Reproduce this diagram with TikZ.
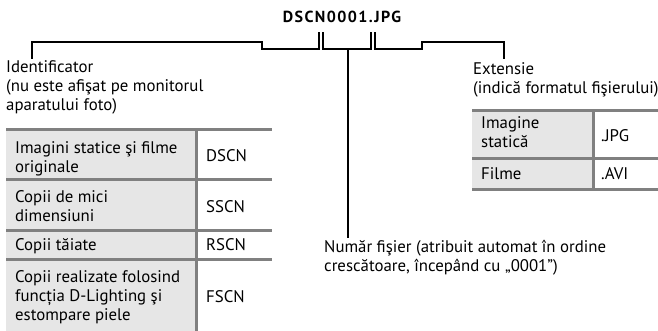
\documentclass[tikz,border=0pt]{standalone}
\usepackage{fontspec}
\setmainfont{PT Sans}
\definecolor{gridgray}{HTML}{808080}
\definecolor{cellgray}{HTML}{E6E6E6}
\begin{document}
\begin{tikzpicture}[x=1pt,y=-1pt]
\useasboundingbox (0,0) rectangle (658,331);
\tikzset{
  txt/.style={anchor=base west, inner sep=0pt, font=\fontsize{16.8}{19}\selectfont, align=left},
  brk/.style={line width=2pt, line cap=rect},
  gridline/.style={draw=gridgray, line width=3pt},
}
% title
\node[anchor=base, inner sep=0pt, font=\fontsize{16}{18}\selectfont\bfseries\addfontfeature{LetterSpace=9}] (title) at (342,23) {DSCN0001.JPG};
% labels (anchor = baseline of last line)
\node[txt] (ident) at (6,111) {Identificator\\(nu este afişat pe monitorul\\aparatului foto)};
\node[txt] (ext) at (473,94) {Extensie\\(indică formatul fişierului)};
\node[txt] (num) at (324,271) {Număr fişier (atribuit automat în ordine\\crescătoare, începând cu „0001”)};
\coordinate (idtop) at (32,58);
\coordinate (exttop) at (504,58);
\coordinate (numtop) at (348,237);
% bracket
\draw[brk] (idtop) -- (32,42) -- (262,42) -- (262,49) -- (319,49) -- (319,33);
\draw[brk] (323,33) -- (323,49) -- (371,49) -- (371,33);
\draw[brk] (375,33) -- (375,49) -- (422,49) -- (422,42) -- (504,42) -- (exttop);
\draw[brk] (348,49) -- (numtop);
% left table
\fill[cellgray] (6,130) rectangle (196,331);
\foreach \yy in {130,180,230,259} \draw[gridline] (6,\yy) -- (272,\yy);
\draw[gridline] (196,130) -- (196,331);
\node[txt] (r1a) at (15,172) {Imagini statice şi filme\\originale};
\node[txt] (r1b) at (206,162) {DSCN};
\node[txt] (r2a) at (15,222) {Copii de mici\\dimensiuni};
\node[txt] (r2b) at (206,212) {SSCN};
\node[txt] (r3a) at (15,250) {Copii tăiate};
\node[txt] (r3b) at (206,250) {RSCN};
\node[txt] (r4a) at (15,320) {Copii realizate folosind\\funcția D-Lighting şi\\estompare piele};
\node[txt] (r4b) at (206,302) {FSCN};
% right table
\fill[cellgray] (472,111) rectangle (593,190);
\foreach \yy in {111,159,190} \draw[gridline] (472,\yy) -- (658,\yy);
\draw[gridline] (593,111) -- (593,190);
\node[txt] (s1a) at (481,148) {Imagine\\statică};
\node[txt] (s1b) at (601,142) {.JPG};
\node[txt] (s2a) at (481,180) {Filme};
\node[txt] (s2b) at (601,180) {.AVI};
\end{tikzpicture}
\end{document}
